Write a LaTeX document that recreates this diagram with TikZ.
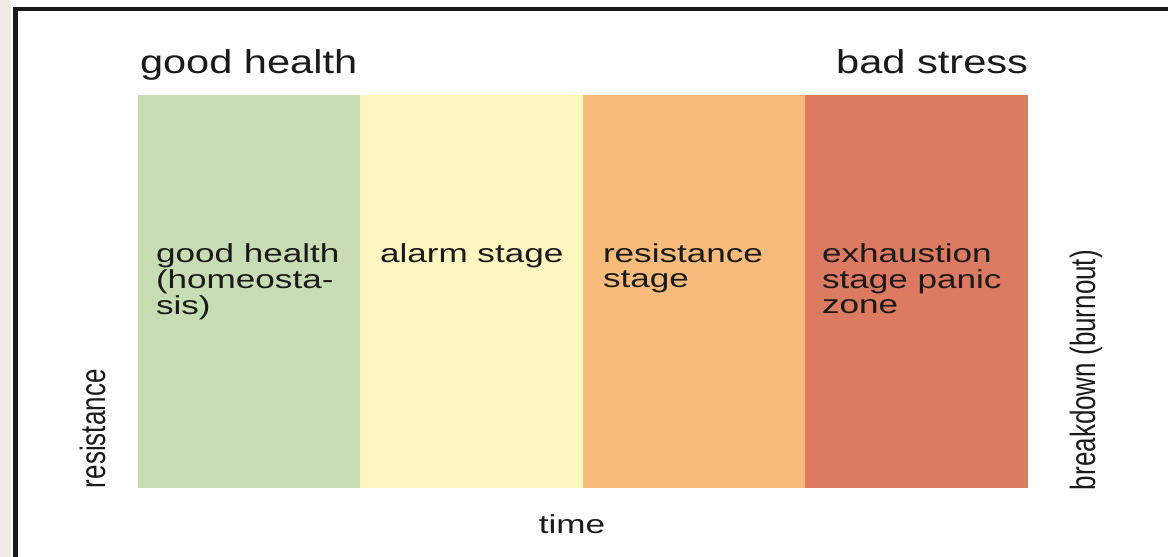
\documentclass[tikz,border=0pt]{standalone}
\usepackage{fontspec}
\setmainfont{Liberation Sans}
\usepackage{graphicx}
\definecolor{cgreen}{HTML}{C9DDB4}
\definecolor{cyellow}{HTML}{FEF6C0}
\definecolor{corange}{HTML}{F8BB7C}
\definecolor{cred}{HTML}{DC7B62}
\definecolor{cgray}{HTML}{EFECE6}
\definecolor{ink}{HTML}{1A1A1A}
\newcommand{\toplab}[1]{\scalebox{1.26}[1]{\fontsize{33}{33}\selectfont #1}}
\newcommand{\innerlab}[1]{\scalebox{1.35}[1]{\fontsize{26}{25.5}\selectfont\begin{tabular}[t]{@{}l@{}}#1\end{tabular}}}
\newcommand{\rotlab}[1]{\scalebox{1}[1.35]{\fontsize{26}{26}\selectfont #1}}
\begin{document}
\begin{tikzpicture}[x=1pt,y=-1pt,
  lab/.style={inner sep=0pt,outer sep=0pt,text=ink},
  bar/.style={draw=none,inner sep=0pt}]
\useasboundingbox (0,0) rectangle (1168,557);
\fill[white] (0,0) rectangle (1168,557);
\fill[cgray] (0,0) rectangle (11,557);
% frame
\fill[ink] (13,7) rectangle (18,557);
\fill[ink] (13,7) rectangle (1168,10.5);
% bars
\fill[cgreen] (138,95) rectangle (360,488);
\fill[cyellow] (360,95) rectangle (583,488);
\fill[corange] (583,95) rectangle (805,488);
\fill[cred] (805,95) rectangle (1028,488);
\coordinate (b1) at (138,95);
% top labels
\node[lab,anchor=base west] (gh) at (140,73) {\toplab{good health}};
\node[lab,anchor=base east] (bs) at (1028,73) {\toplab{bad stress}};
% inner labels
\node[lab,anchor=base west] (s1) at (156,262) {\innerlab{good health\\(homeosta-\\sis)}};
\node[lab,anchor=base west] (s2) at (380,262) {\innerlab{alarm stage}};
\node[lab,anchor=base west] (s3) at (603,262) {\innerlab{resistance\\stage}};
\node[lab,anchor=base west] (s4) at (822,262) {\innerlab{exhaustion\\stage panic\\zone}};
% axis labels
\node[lab,anchor=base] (tm) at (572,533) {\scalebox{1.35}[1]{\fontsize{26}{26}\selectfont time}};
\node[lab,anchor=base west,rotate=90] (rs) at (105,488) {\rotlab{resistance}};
\node[lab,anchor=base west,rotate=90] (bo) at (1095,490) {\rotlab{breakdown (burnout)}};
\end{tikzpicture}
\end{document}
